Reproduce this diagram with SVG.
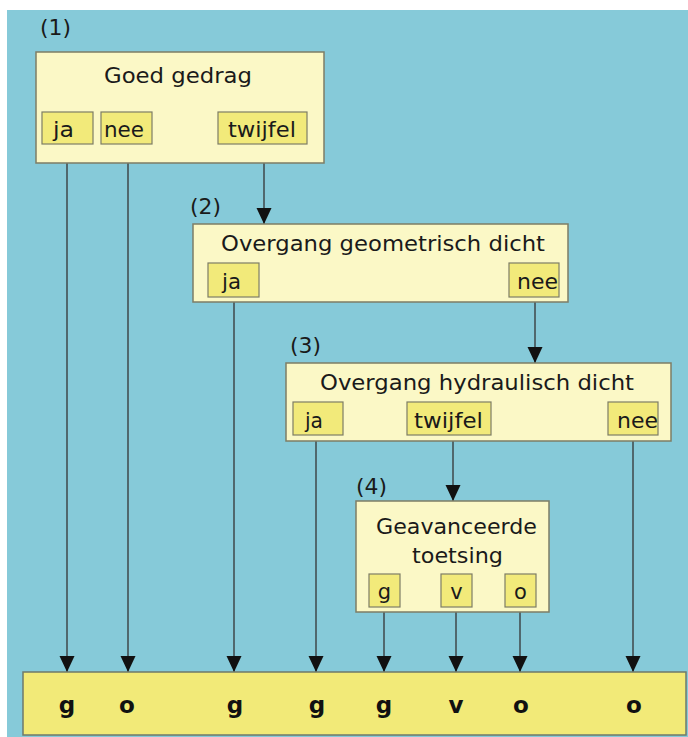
<svg xmlns="http://www.w3.org/2000/svg" width="688" height="737" viewBox="0 0 688 737">
<defs>
<marker id="arr" markerUnits="userSpaceOnUse" markerWidth="16" markerHeight="16" refX="16" refY="8" orient="auto" viewBox="0 0 16 16">
<path d="M0,0.5 L16,8 L0,15.5 Z" fill="#111"/>
</marker>
<style>
.bg{fill:#86CAD9}
.box{fill:#FBF8C6;stroke:#7d7d66;stroke-width:1.5}
.opt{fill:#F2EA7A;stroke:#7d7d66;stroke-width:1.2}
.band{fill:#F2EA78;stroke:#6f7a6a;stroke-width:1.5}
.t{font-family:"DejaVu Sans","Liberation Sans",sans-serif;font-size:22px;fill:#1a1a1a}
.o{font-family:"DejaVu Sans","Liberation Sans",sans-serif;font-size:21px;fill:#1a1a1a}
.r{font-family:"DejaVu Sans","Liberation Sans",sans-serif;font-size:23px;font-weight:bold;fill:#111;text-anchor:middle}
.c line{stroke:#333;stroke-width:1.3;fill:none}
.c line.a{marker-end:url(#arr)}
</style>
</defs>
<rect x="0" y="0" width="688" height="737" fill="#ffffff"/>
<rect class="bg" x="7" y="10" width="681" height="727"/>

<g class="c" id="connectors">
<line class="a" x1="67" y1="163" x2="67" y2="672"/>
<line class="a" x1="128" y1="163" x2="128" y2="672"/>
<line class="a" x1="264" y1="163" x2="264" y2="224"/>
<line class="a" x1="234" y1="302" x2="234" y2="672"/>
<line class="a" x1="535" y1="302" x2="535" y2="363"/>
<line class="a" x1="316" y1="441" x2="316" y2="672"/>
<line class="a" x1="453" y1="441" x2="453" y2="501"/>
<line class="a" x1="633" y1="441" x2="633" y2="672"/>
<line class="a" x1="384" y1="612" x2="384" y2="672"/>
<line class="a" x1="456" y1="612" x2="456" y2="672"/>
<line class="a" x1="520" y1="612" x2="520" y2="672"/>
</g>

<g id="node1">
<text class="t" x="40" y="35" textLength="31" lengthAdjust="spacingAndGlyphs">(1)</text>
<rect class="box" x="36" y="52" width="288" height="111"/>
<text class="t" x="104" y="83" textLength="148" lengthAdjust="spacingAndGlyphs">Goed gedrag</text>
<rect class="opt" x="42" y="112" width="51" height="32"/>
<text class="o" x="53" y="137" textLength="21" lengthAdjust="spacingAndGlyphs">ja</text>
<rect class="opt" x="101" y="112" width="51" height="32"/>
<text class="o" x="104" y="137" textLength="40" lengthAdjust="spacingAndGlyphs">nee</text>
<rect class="opt" x="218" y="112" width="89" height="32"/>
<text class="o" x="228" y="137" textLength="68" lengthAdjust="spacingAndGlyphs">twijfel</text>
</g>

<g id="node2">
<text class="t" x="190" y="214" textLength="31" lengthAdjust="spacingAndGlyphs">(2)</text>
<rect class="box" x="193" y="224" width="375" height="78"/>
<text class="t" x="221" y="251" textLength="324" lengthAdjust="spacingAndGlyphs">Overgang geometrisch dicht</text>
<rect class="opt" x="208" y="263" width="51" height="34"/>
<text class="o" x="222" y="289" textLength="19" lengthAdjust="spacingAndGlyphs">ja</text>
<rect class="opt" x="509" y="263" width="50" height="34"/>
<text class="o" x="517" y="289" textLength="41" lengthAdjust="spacingAndGlyphs">nee</text>
</g>

<g id="node3">
<text class="t" x="290" y="353" textLength="31" lengthAdjust="spacingAndGlyphs">(3)</text>
<rect class="box" x="286" y="363" width="385" height="78"/>
<text class="t" x="320" y="390" textLength="314" lengthAdjust="spacingAndGlyphs">Overgang hydraulisch dicht</text>
<rect class="opt" x="293" y="402" width="50" height="33"/>
<text class="o" x="305" y="428" textLength="18" lengthAdjust="spacingAndGlyphs">ja</text>
<rect class="opt" x="407" y="402" width="84" height="33"/>
<text class="o" x="414" y="428" textLength="69" lengthAdjust="spacingAndGlyphs">twijfel</text>
<rect class="opt" x="608" y="402" width="50" height="33"/>
<text class="o" x="617" y="428" textLength="41" lengthAdjust="spacingAndGlyphs">nee</text>
</g>

<g id="node4">
<text class="t" x="356" y="494" textLength="31" lengthAdjust="spacingAndGlyphs">(4)</text>
<rect class="box" x="356" y="501" width="193" height="111"/>
<text class="t" x="376" y="534" textLength="161" lengthAdjust="spacingAndGlyphs">Geavanceerde</text>
<text class="t" x="412" y="563" textLength="91" lengthAdjust="spacingAndGlyphs">toetsing</text>
<rect class="opt" x="369" y="574" width="31" height="33"/>
<text class="o" x="384.5" y="599" text-anchor="middle">g</text>
<rect class="opt" x="441" y="574" width="31" height="33"/>
<text class="o" x="456.5" y="599" text-anchor="middle">v</text>
<rect class="opt" x="505" y="574" width="31" height="33"/>
<text class="o" x="520.5" y="599" text-anchor="middle">o</text>
</g>

<g id="results">
<rect class="band" x="23" y="672" width="663" height="63"/>
<text class="r" x="67" y="713">g</text>
<text class="r" x="127" y="713">o</text>
<text class="r" x="235" y="713">g</text>
<text class="r" x="317" y="713">g</text>
<text class="r" x="384" y="713">g</text>
<text class="r" x="456" y="713">v</text>
<text class="r" x="521" y="713">o</text>
<text class="r" x="634" y="713">o</text>
</g>
</svg>
